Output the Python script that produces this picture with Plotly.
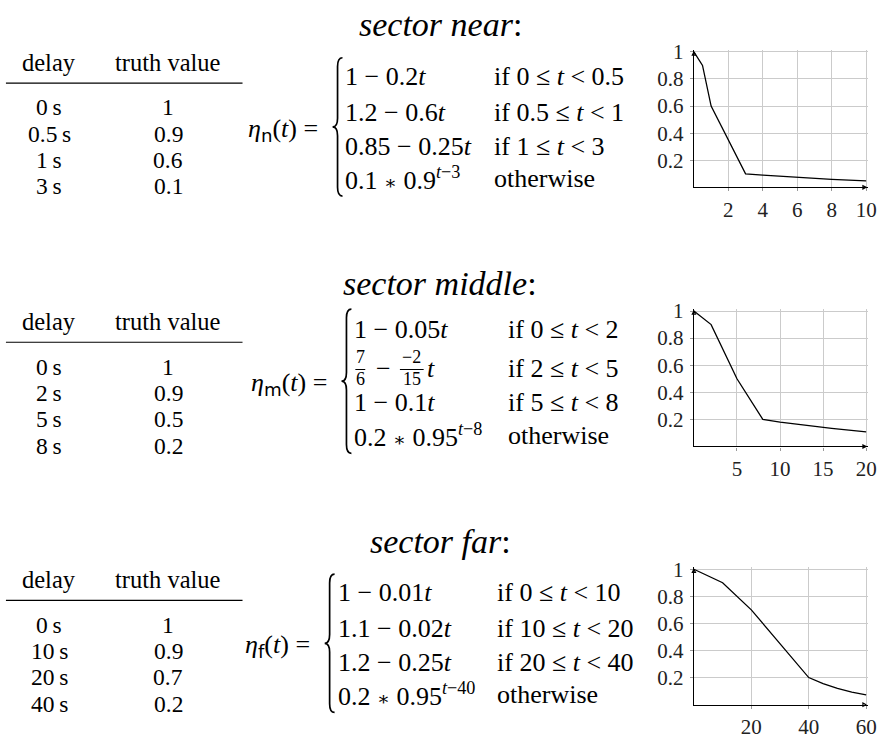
import plotly.graph_objects as go

W, H = 889, 739
SERIF = "Liberation Serif, Times New Roman, serif"
SANS = "DejaVu Sans, sans-serif"
MINUS = "\u2212"
AST = "<span style=\"font-family:'DejaVu Serif';font-size:19px\">\u2217</span>"
BODY = 26
TABLE = 23.5

# ---- data: delay (s) and truth value per sector ----
near_t = [0, 0.5, 1, 3, 4, 5, 6, 7, 8, 9, 10]
near_v = [1, 0.9, 0.6, 0.1, 0.09, 0.081, 0.073, 0.066, 0.059, 0.053, 0.048]
mid_t = [0, 2, 5, 8, 10, 12, 14, 16, 18, 20]
mid_v = [1, 0.9, 0.5, 0.2, 0.18, 0.163, 0.147, 0.133, 0.12, 0.108]
far_t = [0, 10, 20, 40, 45, 50, 55, 60]
far_v = [1, 0.9, 0.7, 0.2, 0.155, 0.12, 0.093, 0.072]

near_xticks = [2, 4, 6, 8, 10]
mid_xticks = [5, 10, 15, 20]
far_xticks = [20, 40, 60]
yticks = [0.2, 0.4, 0.6, 0.8, 1]
ytick_text = ["0.2", "0.4", "0.6", "0.8", "1"]

near_cases = [f"1 {MINUS} 0.2<i>t</i>", f"1.2 {MINUS} 0.6<i>t</i>",
              f"0.85 {MINUS} 0.25<i>t</i>", f"0.1 {AST} 0.9<sup><i>t</i>{MINUS}3</sup>"]
near_conds = ["if 0 \u2264 <i>t</i> < 0.5", "if 0.5 \u2264 <i>t</i> < 1",
              "if 1 \u2264 <i>t</i> < 3", "otherwise"]
mid_cases = [f"1 {MINUS} 0.05<i>t</i>", None,
             f"1 {MINUS} 0.1<i>t</i>", f"0.2 {AST} 0.95<sup><i>t</i>{MINUS}8</sup>"]
mid_conds = ["if 0 \u2264 <i>t</i> < 2", "if 2 \u2264 <i>t</i> < 5",
             "if 5 \u2264 <i>t</i> < 8", "otherwise"]
far_cases = [f"1 {MINUS} 0.01<i>t</i>", f"1.1 {MINUS} 0.02<i>t</i>",
             f"1.2 {MINUS} 0.25<i>t</i>", f"0.2 {AST} 0.95<sup><i>t</i>{MINUS}40</sup>"]
far_conds = ["if 0 \u2264 <i>t</i> < 10", "if 10 \u2264 <i>t</i> < 20",
             "if 20 \u2264 <i>t</i> < 40", "otherwise"]

sectors = [
    dict(name="near", sub="n", t=near_t, v=near_v, xticks=near_xticks,
         cases=near_cases, conds=near_conds, dy=0,
         rows=[68, 105, 140, 173], brace=(49, 191), col1=348, col2=498),
    dict(name="middle", sub="m", t=mid_t, v=mid_v, xticks=mid_xticks,
         cases=mid_cases, conds=mid_conds, dy=266,
         rows=[62, 102, 137, 171], brace=(41, 189), col1=357, col2=512),
    dict(name="far", sub="f", t=far_t, v=far_v, xticks=far_xticks,
         cases=far_cases, conds=far_conds, dy=531,
         rows=[67, 104, 139, 172], brace=(48, 190), col1=340, col2=501),
]

# plot box in pixels (x from 0 to the last tick, y from 0 to 1)
PL, PR, PT, PB = 701, 875, 43, 182
EDGE = 2  # keep the outer grid lines clear of the domain edge
TABLE_ROWS = [100, 127, 154, 181]


def px(x):
    return x / W


def py(y):
    return 1 - y / H


annotations = []
shapes = []


def text(x, y, s, size=BODY, xanchor="center", yanchor="middle", family=SERIF):
    annotations.append(dict(
        x=px(x), y=py(y), xref="paper", yref="paper", text=s, showarrow=False,
        xanchor=xanchor, yanchor=yanchor, borderpad=0,
        font=dict(family=family, size=size, color="black")))


def hline(x0, x1, y, width=1.2):
    shapes.append(dict(type="line", xref="paper", yref="paper",
                       x0=px(x0), x1=px(x1), y0=py(y), y1=py(y),
                       line=dict(color="black", width=width)))


def brace(xr, top, bottom):
    xs, xt = xr - 5, xr - 10
    yc = (top + bottom) / 2
    r = 9
    pts = [("M", xr, top), ("Q", xs, top), ("", xs, top + r), ("L", xs, yc - r),
           ("Q", xs, yc), ("", xt, yc), ("Q", xs, yc), ("", xs, yc + r),
           ("L", xs, bottom - r), ("Q", xs, bottom), ("", xr, bottom)]
    path = " ".join(f"{c}{px(x):.5f},{py(y):.5f}" for c, x, y in pts)
    shapes.append(dict(type="path", xref="paper", yref="paper", path=path,
                       line=dict(color="black", width=1.7)))


fig = go.Figure()

for i, s in enumerate(sectors, start=1):
    dy = s["dy"]
    xa, ya = ("x", "y") if i == 1 else (f"x{i}", f"y{i}")

    # heading
    text(445, 15 + dy, f"<i>sector {s['name']}</i>:", size=34)

    # table of support points
    text(50, 54 + dy, "delay", size=TABLE + 1)
    text(170, 54 + dy, "truth value", size=TABLE + 1)
    hline(6, 245, 75 + dy)
    for k, ty in enumerate(TABLE_ROWS):
        text(50, ty + dy, f"{s['t'][k]:g}\u2009s", size=TABLE)
        text(170, ty + dy, f"{s['v'][k]:g}", size=TABLE)

    # piecewise definition
    top, bottom = s["brace"]
    col1, col2 = s["col1"], s["col2"]
    brace(col1 - 2, top + dy, bottom + dy)
    eta = (f"<i>\u03b7</i><sub><span style=\"font-family:{SANS}\">{s['sub']}</span></sub>"
           f"(<i>t</i>) =")
    text(col1 - 26, (top + bottom) / 2 + 3 + dy, eta, xanchor="right")
    for k, ry in enumerate(s["rows"]):
        if s["cases"][k] is not None:
            text(col1, ry + dy, s["cases"][k], xanchor="left")
        text(col2, ry + dy, s["conds"][k], xanchor="left")
    if s["cases"][1] is None:
        ry = s["rows"][1] + dy
        fx = col1
        text(fx + 7, ry - 12, "7", size=18)
        text(fx + 7, ry + 11, "6", size=18)
        hline(fx + 2, fx + 12, ry + 1, width=1)
        text(fx + 30, ry, MINUS)
        text(fx + 59, ry - 12, f"{MINUS}2", size=18)
        text(fx + 59, ry + 11, "15", size=18)
        hline(fx + 47, fx + 71, ry + 1, width=1)
        text(fx + 73, ry, "<i>t</i>", xanchor="left")

    # small plot of the truth value over the delay
    fig.add_trace(go.Scatter(x=s["t"], y=s["v"], mode="lines",
                             line=dict(color="black", width=1.3),
                             xaxis=xa, yaxis=ya, hoverinfo="skip"))
    xmax = s["xticks"][-1]
    ymax = yticks[-1]
    # arrow tips at the ends of both axes
    fig.add_trace(go.Scatter(
        x=[xmax, 0], y=[0, ymax], mode="markers", xaxis=xa, yaxis=ya,
        hoverinfo="skip", cliponaxis=False,
        marker=dict(symbol=["arrow-right-open", "arrow-up-open"], size=3.2,
                    color="black", line=dict(color="black", width=1.2))))
    dom_x = [px(PL), px(PR + EDGE)]
    dom_y = [py(PB + dy), py(PT - EDGE + dy)]
    x_hi = xmax * (PR + EDGE - PL) / (PR - PL)
    y_hi = ymax * (PB - PT + EDGE) / (PB - PT)
    axis_common = dict(showgrid=True, gridcolor="#cbcbcb", gridwidth=1,
                       zeroline=False, showline=True, linecolor="black",
                       linewidth=1.2, ticks="outside",
                       ticklen=3, tickcolor="#9a9a9a", fixedrange=True,
                       tickfont=dict(family=SERIF, size=21, color="#222"))
    fig.update_layout({
        ("xaxis" if i == 1 else f"xaxis{i}"): dict(
            domain=dom_x, range=[0, x_hi], tickvals=s["xticks"],
            anchor=ya, **axis_common),
        ("yaxis" if i == 1 else f"yaxis{i}"): dict(
            domain=dom_y, range=[0, y_hi], tickvals=yticks, ticktext=ytick_text,
            anchor=xa, ticklabelstandoff=2, **axis_common),
    })

fig.update_layout(
    width=W, height=H, margin=dict(l=0, r=0, t=0, b=0),
    paper_bgcolor="white", plot_bgcolor="white", showlegend=False,
    annotations=annotations, shapes=shapes,
)

fig.write_html("out.html")
